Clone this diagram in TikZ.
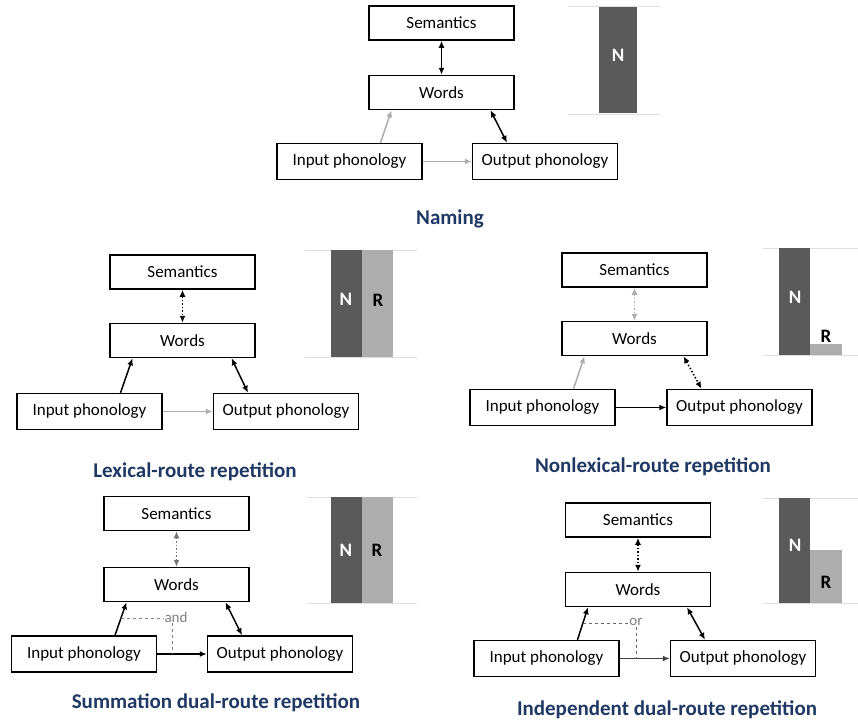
\documentclass[tikz,border=0pt]{standalone}
\usepackage{fontspec}
\setmainfont{Carlito}
\usetikzlibrary{arrows.meta}

\definecolor{navy}{RGB}{32,56,100}
\definecolor{barN}{RGB}{90,90,90}
\definecolor{barR}{RGB}{173,173,173}
\definecolor{gridgray}{RGB}{222,222,222}
\definecolor{weak}{RGB}{172,172,172}

\tikzset{
  box/.style={draw, line width=1.5pt, minimum width=145pt, minimum height=34pt,
    inner sep=0pt, font=\fontsize{17}{20}\selectfont},
  phon/.style={box, minimum height=36pt},
  link/.style={line width=1.5pt},
  weaklink/.style={link, draw=weak},
  paneltitle/.style={anchor=base, text=navy, font=\fontsize{21}{24}\selectfont\bfseries},
  barlabel/.style={font=\fontsize{19}{22}\selectfont\bfseries},
  note/.style={inner sep=1pt, font=\fontsize{15}{18}\selectfont},
  gridline/.style={draw=gridgray, line width=1pt}
}

\begin{document}
\begin{tikzpicture}[x=1pt, y=-1pt, >={Latex[length=7pt,width=6pt]}]
\useasboundingbox (0,0) rectangle (858,723);

% ---- naming (top) ----
\node[box] (semA) at (441.5,23) {Semantics};
\node[box] (wrdA) at (441.5,92.5) {Words};
\node[phon] (inA) at (349.5,161.5) {Input phonology};
\node[phon] (outA) at (545,161.5) {Output phonology};

\draw[link,<->] (semA) -- (wrdA);
\draw[weaklink,->] ([xshift=31pt]inA.north) -- ([xshift=-50pt]wrdA.south);
\draw[link,<->] ([xshift=49pt]wrdA.south) -- ([xshift=-38pt]outA.north);
\draw[weaklink,->] (inA) -- (outA);

% the bar
\draw[gridline] (568,6) -- (660,6);
\fill[barN] (599,7) rectangle (637,113);
\draw[gridline] (568,114) -- (660,114);
\node[barlabel, text=white] (nA) at (618,55) {N};

\node[paneltitle] (tA) at (450,224) {Naming};

% ---- lexical route ----
\node[box] (semB) at (182.5,272) {Semantics};
\node[box] (wrdB) at (182.5,340.5) {Words};
\node[phon] (inB) at (89.5,411.5) {Input phonology};
\node[phon] (outB) at (286,411.5) {Output phonology};

\draw[link,<->,dotted] (semB) -- (wrdB);
\draw[link,->] ([xshift=31pt]inB.north) -- ([xshift=-50pt]wrdB.south);
\draw[link,<->] ([xshift=49pt]wrdB.south) -- ([xshift=-38pt]outB.north);
\draw[weaklink,->] (inB) -- (outB);

\draw[gridline] (305,250) -- (417,250);
\fill[barN] (331,250) rectangle (362,357);
\fill[barR] (362,250) rectangle (393,357);
\draw[gridline] (305,357.5) -- (417,357.5);
\node[barlabel, text=white] (nB) at (346,299) {N};
\node[barlabel] (rB) at (378,300) {R};

\node[paneltitle] (tB) at (195,477) {Lexical-route repetition};

% ---- nonlexical route ----
\node[box] (semC) at (634.5,270) {Semantics};
\node[box] (wrdC) at (634.5,338.5) {Words};
\node[phon] (inC) at (542.5,407.5) {Input phonology};
\node[phon] (outC) at (739.5,407.5) {Output phonology};

\draw[weaklink,<->,dotted] (semC) -- (wrdC);
\draw[weaklink,->] ([xshift=31pt]inC.north) -- ([xshift=-50pt]wrdC.south);
\draw[link,<->,dotted] ([xshift=49pt]wrdC.south) -- ([xshift=-38pt]outC.north);
\draw[link,->] (inC) -- (outC);

\draw[gridline] (763,248) -- (858,248);
\fill[barN] (779,248) rectangle (810,355);
\fill[barR] (810,344) rectangle (842,355);
\draw[gridline] (763,355.5) -- (858,355.5);
\node[barlabel, text=white] (nC) at (795,297) {N};
\node[barlabel] (rC) at (826,336) {R};

\node[paneltitle] (tC) at (653,472) {Nonlexical-route repetition};

% ---- summation dual route ----
\node[box] (semD) at (176.5,513.5) {Semantics};
\node[box] (wrdD) at (176.5,584.5) {Words};
\node[phon] (inD) at (84,654) {Input phonology};
\node[phon] (outD) at (280,654) {Output phonology};

\draw[weaklink,<->,dotted,draw=black!55] (semD) -- (wrdD);
\draw[link,->] ([xshift=31pt]inD.north) -- coordinate[pos=0.5] (mD) ([xshift=-50pt]wrdD.south);
\draw[link,<->] ([xshift=49pt]wrdD.south) -- ([xshift=-38pt]outD.north);
\draw[link,->] (inD) -- coordinate[pos=0.31] (hD) (outD);

% "and" joins both routes
\node[note, text=gray] (andD) at (176,617) {and};
\draw[dashed, gray, line width=1pt] (mD) -- (mD -| andD.west);
\draw[dashed, gray, line width=1pt] (hD |- andD.south) -- (hD);

\draw[gridline] (307,497) -- (417,497);
\fill[barN] (331,497) rectangle (362,603);
\fill[barR] (362,497) rectangle (393,603);
\draw[gridline] (307,603.5) -- (417,603.5);
\node[barlabel, text=white] (nD) at (346,550) {N};
\node[barlabel] (rD) at (377,550) {R};

\node[paneltitle] (tD) at (216,708) {Summation dual-route repetition};

% ---- independent dual route ----
\node[box] (semE) at (638,520) {Semantics};
\node[box] (wrdE) at (638,589.5) {Words};
\node[phon] (inE) at (546.5,658.5) {Input phonology};
\node[phon] (outE) at (743,658.5) {Output phonology};

\draw[link,<->,dotted] (semE) -- (wrdE);
\draw[link,->] ([xshift=31pt]inE.north) -- coordinate[pos=0.51] (mE) ([xshift=-50pt]wrdE.south);
\draw[link,<->] ([xshift=49pt]wrdE.south) -- ([xshift=-38pt]outE.north);
\draw[link,->,draw=black!75] (inE) -- coordinate[pos=0.33] (hE) (outE);

% "or" separates the routes
\node[note, text=gray] (orE) at (636,622) {or};
\draw[dashed, black!60, line width=1pt] (mE) -- (mE -| orE.west);
\draw[dashed, black!60, line width=1pt] (hE |- orE.south) -- (hE);

\draw[gridline] (763,498) -- (858,498);
\fill[barN] (779,498) rectangle (810,603);
\fill[barR] (810,550) rectangle (842,603);
\draw[gridline] (763,603.5) -- (858,603.5);
\node[barlabel, text=white] (nE) at (795,545) {N};
\node[barlabel] (rE) at (826,582) {R};

\node[paneltitle] (tE) at (667,715) {Independent dual-route repetition};

\end{tikzpicture}
\end{document}
